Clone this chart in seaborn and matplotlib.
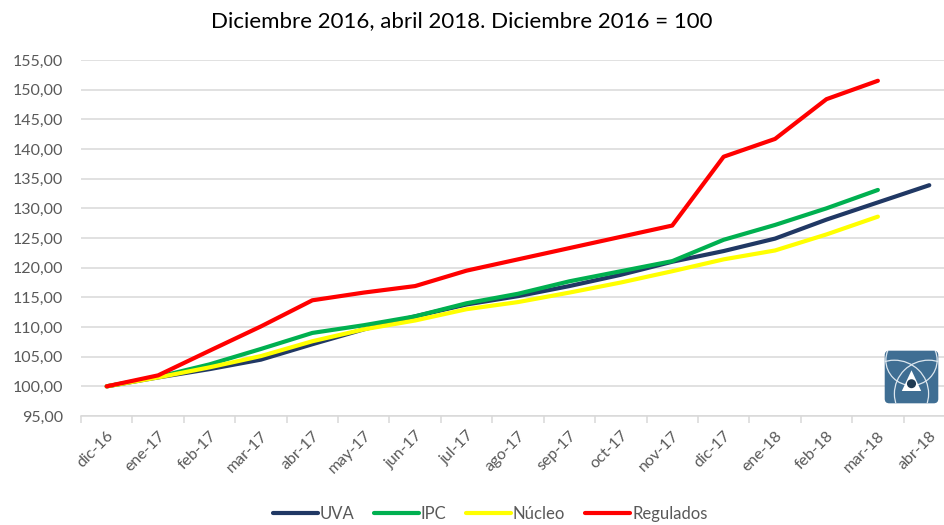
import matplotlib
matplotlib.use("Agg")
import matplotlib.pyplot as plt
import seaborn as sns
import pandas as pd
import numpy as np
from matplotlib.patches import FancyBboxPatch, Circle, Polygon
from matplotlib.ticker import FuncFormatter, FixedLocator

months = ["dic-16", "ene-17", "feb-17", "mar-17", "abr-17", "may-17", "jun-17",
          "jul-17", "ago-17", "sep-17", "oct-17", "nov-17", "dic-17", "ene-18",
          "feb-18", "mar-18", "abr-18"]

uva = [100.0, 101.5, 102.9, 104.5, 107.1, 109.6, 111.8, 113.8, 115.2, 116.9,
       118.8, 121.0, 122.8, 124.9, 128.1, 131.0, 133.9]
ipc = [100.0, 101.6, 103.7, 106.3, 109.0, 110.3, 111.8, 114.0, 115.6, 117.7,
       119.4, 121.1, 124.7, 127.2, 130.0, 133.1, None]
nucleo = [100.0, 101.5, 103.2, 105.1, 107.6, 109.6, 111.1, 113.0, 114.2, 115.8,
          117.5, 119.4, 121.4, 122.9, 125.6, 128.6, None]
regulados = [100.0, 101.85, 106.0, 110.1, 114.5, 115.8, 116.9, 119.5, 121.4, 123.3,
             125.2, 127.1, 138.7, 141.7, 148.4, 151.5, None]

series_names = ["UVA", "IPC", "Núcleo", "Regulados"]
colors = ["#203864", "#00B050", "#FFFF00", "#FF0000"]

rows = []
for name, vals in zip(series_names, [uva, ipc, nucleo, regulados]):
    for i, v in enumerate(vals):
        if v is not None:
            rows.append({"idx": i, "mes": months[i], "valor": v, "serie": name})
df = pd.DataFrame(rows)

sns.set_theme(style="white")
plt.rcParams["font.family"] = ["Lato", "DejaVu Sans"]

fig = plt.figure(figsize=(9.44, 5.25), dpi=100)
W, H = 944, 525
left, right, top, bottom = 81, 955, 60, 416
ax = fig.add_axes([left / W, 1 - bottom / H, (right - left) / W, (bottom - top) / H])

sns.lineplot(data=df, x="idx", y="valor", hue="serie", hue_order=series_names,
             palette=colors, linewidth=3.0, ax=ax, legend=True, sort=False)
for ln in ax.lines:
    ln.set_solid_capstyle("round")
    ln.set_solid_joinstyle("round")

ax.set_xlim(-0.5, len(months) - 0.5)
ax.set_ylim(95, 155)
ax.set_yticks(np.arange(95, 156, 5))
ax.yaxis.set_major_formatter(FuncFormatter(lambda v, p: f"{v:.2f}".replace(".", ",")))
ax.yaxis.grid(True, color="#D9D9D9", linewidth=1.1)
ax.set_axisbelow(True)

ax.set_xticks(range(len(months)))
ax.set_xticklabels(months, rotation=45, ha="right", rotation_mode="anchor")
ax.xaxis.set_minor_locator(FixedLocator(np.arange(-0.5, len(months), 1.0)))
ax.tick_params(axis="x", which="major", length=0, pad=9, labelsize=11.5, labelcolor="#595959")
ax.tick_params(axis="x", which="minor", length=5, color="#D9D9D9", width=1.1, bottom=True)
ax.tick_params(axis="y", length=0, pad=13, labelsize=11.5, labelcolor="#595959")

for s in ["top", "right", "left"]:
    ax.spines[s].set_visible(False)
ax.spines["bottom"].set_color("#D9D9D9")
ax.spines["bottom"].set_linewidth(1.1)
ax.set_xlabel("")
ax.set_ylabel("")

handles, labels = ax.get_legend_handles_labels()
ax.legend_.remove()
leg = fig.legend(handles, labels, loc="center", bbox_to_anchor=(490 / W, 1 - 514 / H),
                 ncol=4, frameon=False, fontsize=12, handlelength=2.7,
                 handletextpad=0.1, columnspacing=1.2)
for t in leg.get_texts():
    t.set_color("#595959")
for h in leg.legend_handles:
    h.set_linewidth(3.0)

fig.text(462 / W, 1 - 21 / H, "Diciembre 2016, abril 2018. Diciembre 2016 = 100",
         ha="center", va="center", fontsize=16, color="#000000")

# logo
lx0, lx1, ly0, ly1 = 883, 940, 349, 405
lax = fig.add_axes([lx0 / W, 1 - ly1 / H, (lx1 - lx0) / W, (ly1 - ly0) / H])
lax.set_xlim(0, 1)
lax.set_ylim(0, 1)
lax.axis("off")
box = FancyBboxPatch((0.03, 0.03), 0.94, 0.94, boxstyle="round,pad=0,rounding_size=0.08",
                     facecolor="#3F6E93", edgecolor="none")
lax.add_patch(box)
for cx, cy, r in [(0.2, 0.2, 0.6), (0.8, 0.2, 0.6), (0.5, 0.8, 0.45)]:
    c = Circle((cx, cy), r, fill=False, edgecolor="#DDE7EF", linewidth=0.9)
    lax.add_patch(c)
    c.set_clip_path(box)
tri = Polygon([[0.5, 0.62], [0.33, 0.25], [0.67, 0.25]], closed=True,
              facecolor="white", edgecolor="none")
lax.add_patch(tri)
drop = Circle((0.5, 0.38), 0.08, facecolor="#1F3A52", edgecolor="none")
lax.add_patch(drop)

fig.savefig("out.png", dpi=100)
